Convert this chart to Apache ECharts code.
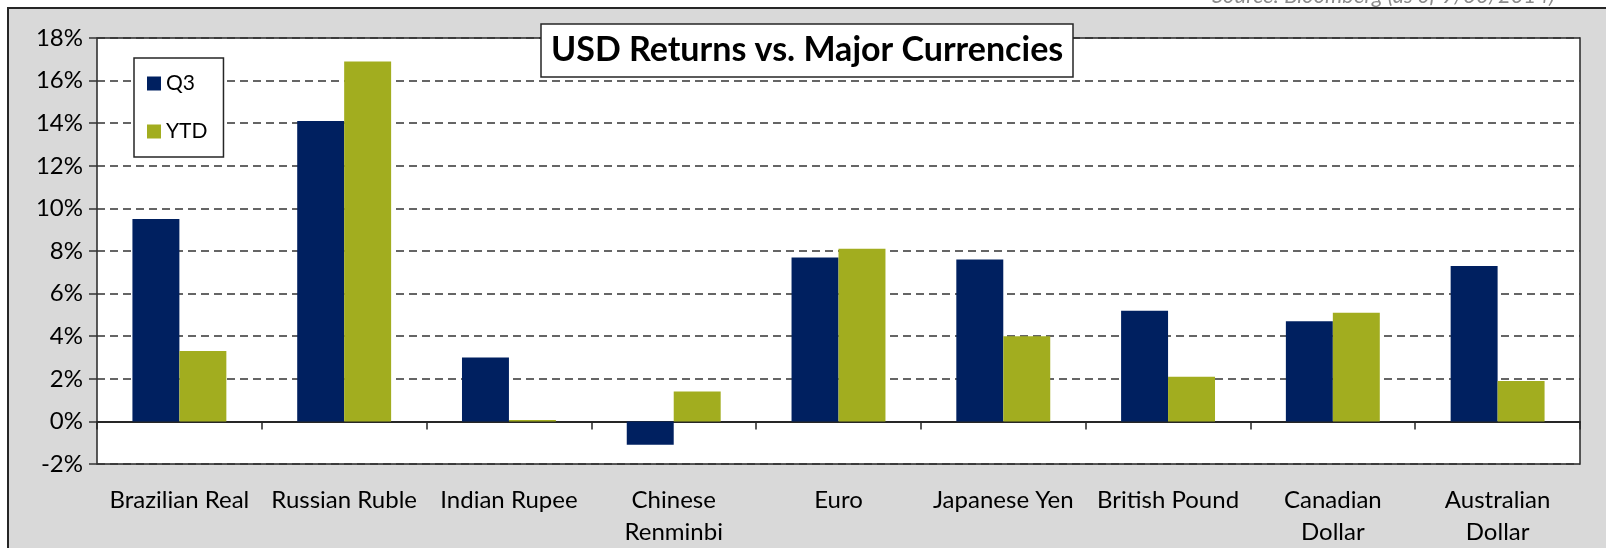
<!DOCTYPE html>
<html>
<head>
<meta charset="utf-8">
<script src="https://cdn.jsdelivr.net/npm/echarts@6/dist/echarts.min.js"></script>
<style>
  html, body { margin: 0; padding: 0; background: #fff; }
  #chart { width: 1606px; height: 548px; }
</style>
</head>
<body>
<div id="chart"></div>
<script>
  // 数据
  const categories = ['Brazilian Real', 'Russian Ruble', 'Indian Rupee', 'Chinese\nRenminbi', 'Euro',
    'Japanese Yen', 'British Pound', 'Canadian\nDollar', 'Australian\nDollar'];
  const q3 = [9.5, 14.1, 3.0, -1.1, 7.7, 7.6, 5.2, 4.7, 7.3];
  const ytd = [3.3, 16.9, 0.07, 1.4, 8.1, 4.0, 2.1, 5.1, 1.9];

  const font = 'Lato, "Open Sans", sans-serif';

  let myChart = echarts.init(document.getElementById('chart'));
  myChart.setOption({
    animation: false,
    textStyle: { fontFamily: font },
    graphic: [
      {
        type: 'rect', z: -10,
        shape: { x: 8, y: 8, width: 1640, height: 580 },
        style: { fill: '#d9d9d9', stroke: '#262626', lineWidth: 2 }
      },
      {
        // 来源说明，上半部分被裁掉
        type: 'text', z: -11,
        left: 1212, top: -15,
        style: { text: 'Source: Bloomberg (as of 9/30/2014)', fill: '#8c8c8c', font: 'italic 22px ' + font }
      }
    ],
    title: {
      text: 'USD Returns vs. Major Currencies',
      left: 541, top: 24,
      padding: [9, 10, 10, 10],
      backgroundColor: '#fff',
      borderColor: '#262626', borderWidth: 1.5,
      textStyle: { fontSize: 34, fontWeight: 'bold', color: '#000', fontFamily: font }
    },
    legend: {
      orient: 'vertical',
      left: 134, top: 58,
      padding: [15, 16, 15, 13],
      itemGap: 27,
      itemWidth: 14, itemHeight: 14,
      icon: 'rect',
      backgroundColor: '#fff',
      borderColor: '#262626', borderWidth: 1.5,
      textStyle: { fontSize: 21, color: '#000' },
      data: ['Q3', 'YTD']
    },
    grid: {
      left: 97, right: 26, top: 38, bottom: 83,
      show: true, backgroundColor: '#fff',
      borderColor: '#262626', borderWidth: 1.5
    },
    xAxis: [
      {
        type: 'category', data: categories,
        position: 'bottom',
        axisLine: { show: false, onZero: false },
        axisTick: { show: false },
        axisLabel: { fontSize: 24, color: '#000', margin: 20, lineHeight: 32, interval: 0 }
      },
      {
        type: 'category', data: categories,
        position: 'bottom',
        axisLine: { onZero: true, lineStyle: { color: '#262626', width: 2 } },
        axisTick: { show: true, length: 8, lineStyle: { color: '#262626', width: 1.5 } },
        axisLabel: { show: false }
      }
    ],
    yAxis: {
      type: 'value', min: -2, max: 18, interval: 2,
      axisLine: { show: false },
      axisTick: { show: true, length: 8, lineStyle: { color: '#333', width: 1.5 } },
      axisLabel: { formatter: '{value}%', fontSize: 24, color: '#000', margin: 14 },
      splitLine: { lineStyle: { color: '#333', width: 1.5, type: [8, 5] } }
    },
    series: [
      {
        name: 'Q3', type: 'bar', data: q3,
        itemStyle: { color: '#002060' },
        barGap: '0%', barCategoryGap: '43%'
      },
      {
        name: 'YTD', type: 'bar', data: ytd,
        itemStyle: { color: '#a2ad1f' }
      }
    ]
  });
  window.addEventListener('resize', () => { myChart.resize() });
</script>
</body>
</html>
